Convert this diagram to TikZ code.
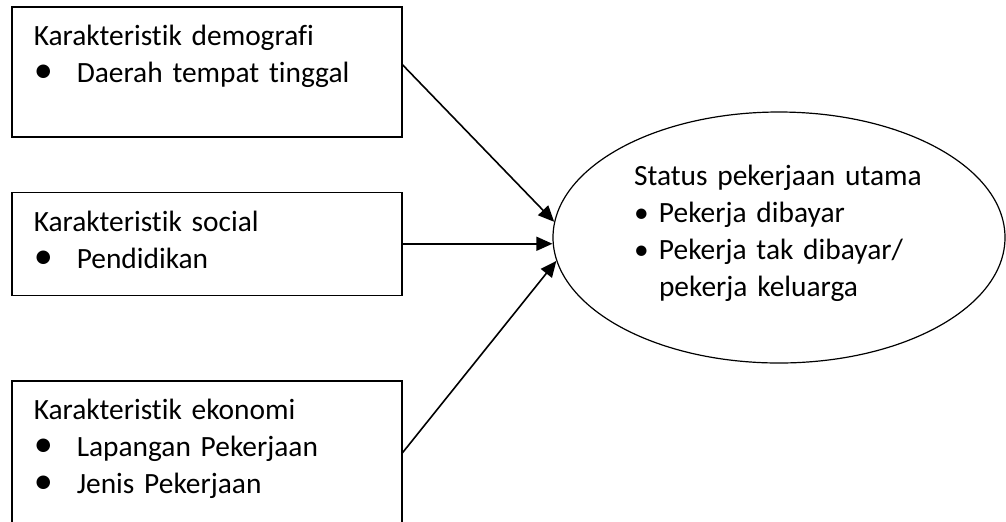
\documentclass[tikz,border=0pt]{standalone}
\usepackage{fontspec}
\setmainfont[Ligatures=NoCommon]{Carlito}
\usetikzlibrary{positioning,shapes.geometric,arrows.meta}

\newcommand{\poin}[1]{\\\makebox[21.5pt][l]{\scalebox{1.3}{\textbullet}}#1}
\newcommand{\poinb}[1]{\\\makebox[12.5pt][l]{\textbullet}#1}

\tikzset{
  kotak/.style={draw, line width=0.75pt, rectangle, text width=173pt, align=left,
    inner xsep=11pt, inner ysep=0pt, text height=19.5pt,
    font=\fontsize{14.7}{18.5}\selectfont},
  panah/.style={-{Triangle[length=8pt,width=7pt]}, line width=0.8pt},
}

\begin{document}
\begin{tikzpicture}
      \useasboundingbox (0,0) rectangle (503pt,-260.5pt);
      % Nodes
      \node (demog) [kotak, anchor=north west, text depth=45.5pt] at (5.5pt,-3pt)
        {Karakteristik demografi \poin{Daerah tempat tinggal}};
      \node (social) [kotak, below=27pt of demog, text depth=32pt]
        {Karakteristik social \poin{Pendidikan}};
      \node (ekon) [kotak, below=42pt of social, text depth=71.5pt]
        {Karakteristik ekonomi \poin{Lapangan Pekerjaan} \poin{Jenis Pekerjaan}};
      \node (status) [ellipse, draw, line width=0.6pt, minimum width=226pt, minimum height=125.5pt,
        inner sep=0pt, text width=145pt, align=left, text height=10pt, text depth=62.5pt,
        font=\fontsize{14.7}{18.5}\selectfont] at (389.5pt,-118.75pt)
        {Status pekerjaan utama \poinb{Pekerja dibayar} \poinb{Pekerja tak dibayar/}\\\hspace*{12.5pt}pekerja keluarga};

      % Arrows
      \draw[panah] ([yshift=3.5pt]demog.east) -- (status.176);
      \draw[panah] (social.east) -- (social.east -| status.west);
      \draw[panah] ([yshift=9.5pt]ekon.east) -- (status.186);
\end{tikzpicture}
\end{document}
